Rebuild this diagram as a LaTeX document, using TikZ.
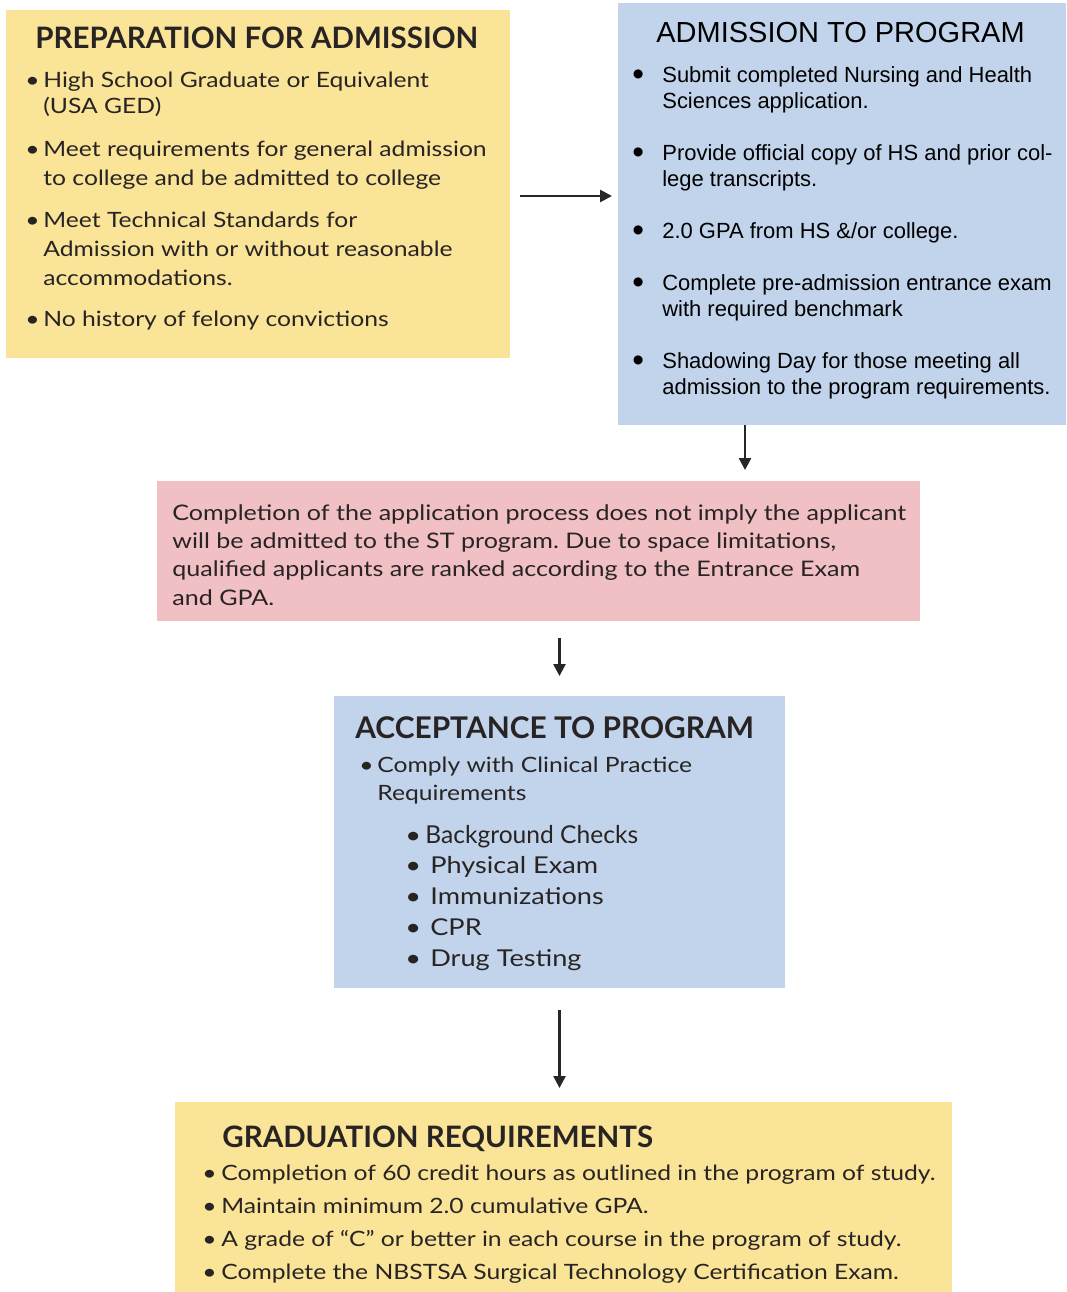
\documentclass[tikz,border=0pt]{standalone}
\usepackage{fontspec}
\usepackage{xcolor}
\setmainfont{Lato}
\newfontfamily\arialfont{Liberation Sans}
\newfontfamily\widefont[FakeStretch=1.17,Ligatures=TeX]{Lato}
\usetikzlibrary{arrows.meta}
\frenchspacing

\definecolor{prepyellow}{RGB}{250,228,152}
\definecolor{stepblue}{RGB}{194,212,235}
\definecolor{notepink}{RGB}{241,192,196}
\definecolor{inkgrey}{RGB}{40,36,36}

\begin{document}
\begin{tikzpicture}[x=0.02cm, y=-0.02cm,
    box/.style={inner sep=0pt, outer sep=0pt},
    heading/.style={anchor=base west, inner sep=0pt, text=inkgrey, font=\bfseries\fontsize{16.8}{19}\selectfont},
    listtext/.style={anchor=base west, inner sep=0pt, text=inkgrey},
    flow/.style={-{Triangle[length=0.24cm,width=0.24cm]}, line width=1.4pt, black!85}]

    \useasboundingbox (0,0) rectangle (1066,1292);

    % coloured boxes
    \node[box, fill=prepyellow, minimum width=10.08cm, minimum height=6.96cm] (prep) at (258,184) {};
    \node[box, fill=stepblue, minimum width=8.96cm, minimum height=8.44cm] (admit) at (842,214) {};
    \node[box, fill=notepink, minimum width=15.26cm, minimum height=2.80cm] (note) at (538.5,551) {};
    \node[box, fill=stepblue, minimum width=9.02cm, minimum height=5.84cm] (accept) at (559.5,842) {};
    \node[box, fill=prepyellow, minimum width=15.54cm, minimum height=3.80cm] (grad) at (563.5,1197) {};

    % preparation
    \node[heading] (preptitle) at (35,48) {PREPARATION FOR ADMISSION};
    \node[listtext, font=\widefont\fontsize{12}{16.5}\selectfont] (preplist) at (25,87) {%
        \begin{tabular}[t]{@{}p{0.36cm}@{}l@{}}
            \textbullet & High School Graduate or Equivalent\\[-1.7pt]
                        & (USA GED)\\[8.5pt]
            \textbullet & Meet requirements for general admission\\
                        & to college and be admitted to college\\[7.4pt]
            \textbullet & Meet Technical Standards for\\
                        & Admission with or without reasonable\\
                        & accommodations.\\[6.8pt]
            \textbullet & No history of felony convictions
        \end{tabular}};

    % admission
    \node[heading, font=\arialfont\fontsize{16.5}{19}\selectfont, text=black] (admittitle) at (656,42) {ADMISSION TO PROGRAM};
    \node[listtext, font=\arialfont\fontsize{12.5}{14.8}\selectfont, text=black] (admitlist) at (632,82) {%
        \begin{tabular}[t]{@{}p{0.6cm}@{}l@{}}
            \raisebox{-2pt}{\fontsize{19}{0}\selectfont\textbullet} & Submit completed Nursing and Health\\
                                & Sciences application.\\[14.8pt]
            \raisebox{-2pt}{\fontsize{19}{0}\selectfont\textbullet} & Provide official copy of HS and prior col-\\
                                & lege transcripts.\\[14.8pt]
            \raisebox{-2pt}{\fontsize{19}{0}\selectfont\textbullet} & 2.0 GPA from HS \&/or college.\\[14.8pt]
            \raisebox{-2pt}{\fontsize{19}{0}\selectfont\textbullet} & Complete pre-admission entrance exam\\
                                & with required benchmark\\[14.8pt]
            \raisebox{-2pt}{\fontsize{19}{0}\selectfont\textbullet} & Shadowing Day for those meeting all\\
                                & admission to the program requirements.
        \end{tabular}};

    % note
    \node[listtext, font=\widefont\fontsize{12.2}{16.2}\selectfont] (notetext) at (172,520) {%
        \begin{tabular}[t]{@{}l@{}}
            Completion of the application process does not imply the applicant\\
            will be admitted to the ST program. Due to space limitations,\\
            qualified applicants are ranked according to the Entrance Exam\\
            and GPA.
        \end{tabular}};

    % acceptance
    \node[heading, font=\bfseries\fontsize{17}{19}\selectfont] (accepttitle) at (355,738) {ACCEPTANCE TO PROGRAM};
    \node[listtext, font=\widefont\fontsize{12}{16}\selectfont] (acceptlist) at (359,772) {%
        \begin{tabular}[t]{@{}p{0.36cm}@{}l@{}}
            \textbullet & Comply with Clinical Practice\\
                        & Requirements
        \end{tabular}};
    \node[listtext, font=\widefont\fontsize{13.2}{17.6}\selectfont] (checklist) at (405,843) {%
        \begin{tabular}[t]{@{}p{0.4cm}@{}l@{}}
            \textbullet & \normalfont\fontsize{14}{17.6}\selectfont Background Checks\\
            \textbullet & \hspace{0.1cm}Physical Exam\\
            \textbullet & \hspace{0.1cm}Immunizations\\
            \textbullet & \hspace{0.1cm}CPR\\
            \textbullet & \hspace{0.1cm}Drug Testing
        \end{tabular}};

    % graduation
    \node[heading, font=\bfseries\fontsize{16.8}{18}\selectfont] (gradtitle) at (222,1147) {GRADUATION REQUIREMENTS};
    \node[listtext, font=\widefont\fontsize{12}{18.8}\selectfont] (gradlist) at (202,1180) {%
        \begin{tabular}[t]{@{}p{0.38cm}@{}l@{}}
            \textbullet & Completion of 60 credit hours as outlined in the program of study.\\
            \textbullet & Maintain minimum 2.0 cumulative GPA.\\
            \textbullet & A grade of “C” or better in each course in the program of study.\\
            \textbullet & Complete the NBSTSA Surgical Technology Certification Exam.
        \end{tabular}};

    % arrows
    \draw[flow, shorten <=0.2cm, shorten >=0.12cm] (prep.east |- 0,196) -- (admit.west |- 0,196);
    \draw[flow, shorten >=0.22cm] (admit.south -| 745,0) -- (note.north -| 745,0);
    \draw[flow, shorten <=0.34cm, shorten >=0.4cm] (note.south -| accept.north) -- (accept.north);
    \draw[flow, shorten <=0.44cm, shorten >=0.28cm] (accept.south) -- (grad.north -| accept.south);
\end{tikzpicture}
\end{document}
